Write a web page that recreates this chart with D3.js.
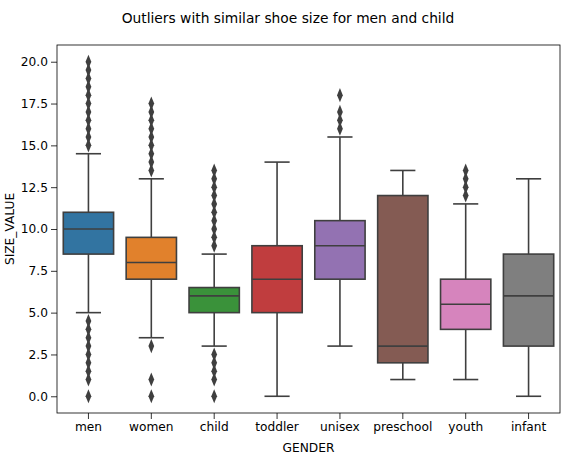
<!DOCTYPE html>
<html><head><meta charset="utf-8">
<script src="https://cdn.jsdelivr.net/npm/d3@7"></script>
<style>body{margin:0;background:#fff}text{font-family:"DejaVu Sans",sans-serif}</style>
</head><body><svg class="chart" width="576" height="466"></svg>
<script>
// categories and box stats
let genders = ['men', 'women', 'child', 'toddler', 'unisex', 'preschool', 'youth', 'infant'];
let colors = ['#3274a1', '#e1812c', '#3a923a', '#c03d3e', '#9372b2', '#845b53', '#d684bd', '#7f7f7f'];
let q1 = [8.5, 7, 5, 5, 7, 2, 4, 3];
let medians = [10, 8, 6, 7, 9, 3, 5.5, 6];
let q3 = [11, 9.5, 6.5, 9, 10.5, 12, 7, 8.5];
let whiskLow = [5, 3.5, 3, 0, 3, 1, 1, 0];
let whiskHigh = [14.5, 13, 8.5, 14, 15.5, 13.5, 11.5, 13];
let outliers = [
	[0, 1, 1.5, 2, 2.5, 3, 3.5, 4, 4.5, 15, 15.5, 16, 16.5, 17, 17.5, 18, 18.5, 19, 19.5, 20],
	[0, 1, 3, 13.5, 14, 14.5, 15, 15.5, 16, 16.5, 17, 17.5],
	[0, 1, 1.5, 2, 2.5, 9, 9.5, 10, 10.5, 11, 11.5, 12, 12.5, 13, 13.5],
	[],
	[16, 16.5, 17, 18],
	[],
	[12, 12.5, 13, 13.5],
	[]
];
let yTicks = [0, 2.5, 5, 7.5, 10, 12.5, 15, 17.5, 20];

let margin = {top: 45, right: 16, bottom: 53, left: 57};
let width = 576 - margin.left - margin.right;
let height = 466 - margin.top - margin.bottom;
let x = d3.scaleBand().domain(genders).range([0, width]);
let y = d3.scaleLinear().domain([-1, 21]).range([height, 0]);
let line = '#3f3f3f';

let svg = d3.select('.chart');
let g = svg.append('g').attr('transform', 'translate(' + margin.left + ',' + margin.top + ')');

svg.append('text').attr('x', 288).attr('y', 23).attr('text-anchor', 'middle')
	.style('font-size', '13.8px').text('Outliers with similar shoe size for men and child');

let xAxis = g.append('g').attr('transform', 'translate(0,' + height + ')').call(d3.axisBottom(x).tickSizeOuter(0));
let yAxis = g.append('g').call(d3.axisLeft(y).tickValues(yTicks).tickFormat(d3.format('.1f')).tickSizeOuter(0));
[xAxis, yAxis].forEach(function(a) {
	a.select('.domain').remove();
	a.selectAll('text').style('font-size', '12.2px').attr('fill', '#000');
	a.selectAll('line').attr('stroke', '#000').attr('stroke-width', 0.8);
});

g.append('text').attr('x', width / 2).attr('y', height + 39).attr('text-anchor', 'middle')
	.style('font-size', '12.2px').text('GENDER');
g.append('text').attr('transform', 'rotate(-90)').attr('x', -height / 2).attr('y', -43)
	.attr('text-anchor', 'middle').style('font-size', '12.2px').text('SIZE_VALUE');

let bw = x.bandwidth() * 0.8;
genders.forEach(function(d, i) {
	let cx = x(d) + x.bandwidth() / 2;
	let b = g.append('g').attr('stroke', line).attr('stroke-width', 1.6);
	b.append('line').attr('x1', cx).attr('x2', cx).attr('y1', y(whiskLow[i])).attr('y2', y(q1[i]));
	b.append('line').attr('x1', cx).attr('x2', cx).attr('y1', y(q3[i])).attr('y2', y(whiskHigh[i]));
	[whiskLow[i], whiskHigh[i]].forEach(function(v) {
		b.append('line').attr('x1', cx - bw / 4).attr('x2', cx + bw / 4).attr('y1', y(v)).attr('y2', y(v));
	});
	b.append('rect').attr('x', cx - bw / 2).attr('width', bw)
		.attr('y', y(q3[i])).attr('height', y(q1[i]) - y(q3[i])).attr('fill', colors[i]);
	b.append('line').attr('x1', cx - bw / 2).attr('x2', cx + bw / 2).attr('y1', y(medians[i])).attr('y2', y(medians[i]));
	outliers[i].forEach(function(v) {
		g.append('path').attr('d', d3.symbol(d3.symbolDiamond, 40)())
			.attr('transform', 'translate(' + cx + ',' + y(v) + ') scale(0.85,1.2)').attr('fill', line);
	});
});

g.append('rect').attr('width', width).attr('height', height)
	.attr('fill', 'none').attr('stroke', '#000').attr('stroke-width', 0.8);
</script></body></html>
